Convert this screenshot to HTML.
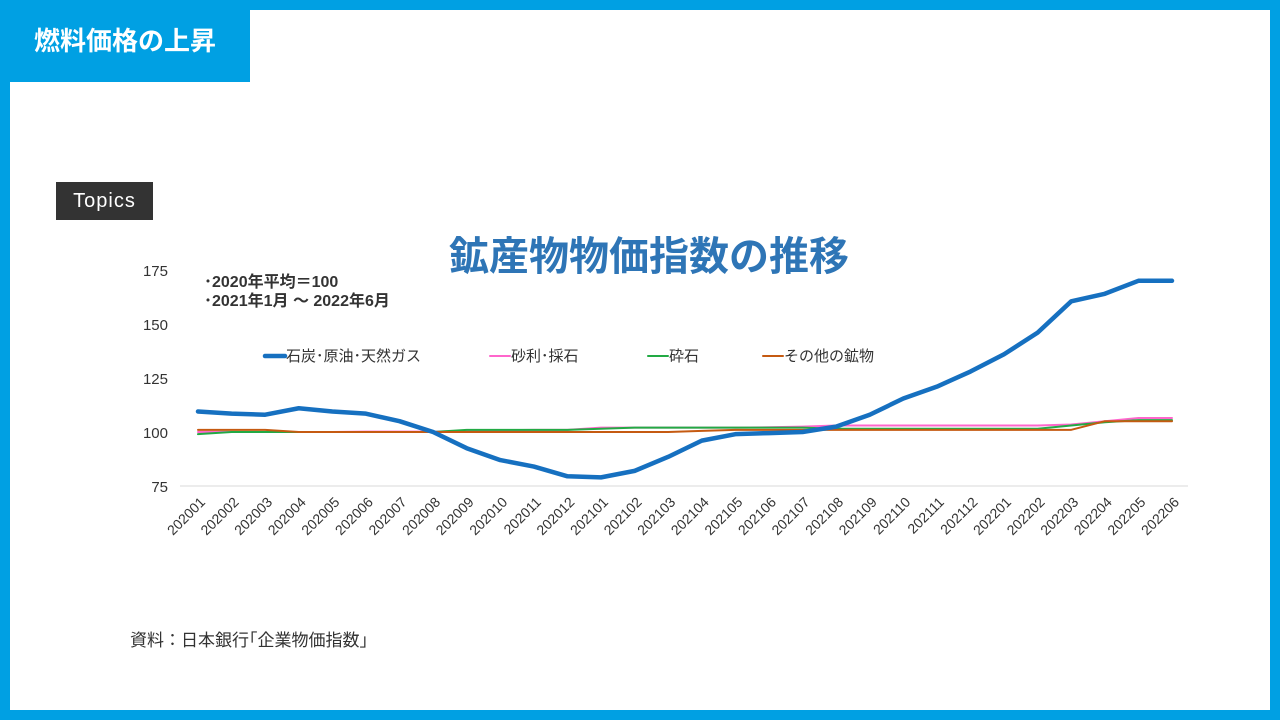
<!DOCTYPE html>
<html><head><meta charset="utf-8"><style>
body{margin:0;width:1280px;height:720px;overflow:hidden;font-family:"Liberation Sans","Noto Sans CJK JP",sans-serif}
#frame{position:absolute;left:0;top:0;width:1260px;height:700px;border:10px solid #00a0e3;background:#fff}
#ttl{position:absolute;left:0;top:0;width:250px;height:82px;background:#00a0e3;color:#fff;font-size:26px;font-weight:bold;line-height:82px;text-align:center}
#topics{position:absolute;left:56px;top:182px;width:97px;height:38px;background:#333;color:#fff;font-size:20px;line-height:38px;text-align:center;letter-spacing:1px}
#src{position:absolute;left:130px;top:626px;font-size:17px;color:#333}
</style></head><body>
<div id="frame"></div>
<div id="ttl">燃料価格の上昇</div>
<div id="topics">Topics</div>
<svg id="chart" width="1280" height="720" style="position:absolute;left:0;top:0">
<text x="649" y="270" text-anchor="middle" font-size="40" font-weight="bold" fill="#2e75b6">鉱産物物価指数の推移</text>
<text x="204" y="287" font-size="16" font-weight="bold" fill="#333">･2020年平均＝100</text>
<text x="204" y="306" font-size="16" font-weight="bold" fill="#333">･2021年1月 ～ 2022年6月</text>
<line x1="180" y1="486" x2="1188" y2="486" stroke="#e6e6e6" stroke-width="1.5"/>
<g id="g"></g>
</svg>
<div id="src">資料：日本銀行｢企業物価指数｣</div>
<script>
const categories=["202001","202002","202003","202004","202005","202006","202007","202008","202009","202010","202011","202012","202101","202102","202103","202104","202105","202106","202107","202108","202109","202110","202111","202112","202201","202202","202203","202204","202205","202206"];
const yTicks=[75,100,125,150,175];
const coal=[109.5,108.5,108,111,109.5,108.5,105,100,92.5,87,84,79.5,79,82,88.5,96,99,99.5,100,102.5,108,115.5,121,128,136,146,160.5,164,170,170];
const gravel=[100,100,100,100,100,100.2,100.2,100.2,100.5,100.8,101,101,102,102,102,102,102,102.2,102.5,103,103,103,103,103,103,103,103.5,105,106.5,106.5];
const crushed=[99,100,100,100,100,100,100,100,101,101,101,101,101.5,102,102,102,102,102,102,101.5,101.5,101.5,101.5,101.5,101.5,101.5,103,104.5,105.5,105.5];
const other=[101,101,101,100,100,100,100,100,100,100,100,100,100,100,100,100.5,101,101,101,101,101,101,101,101,101,101,101,105,105,105];
const seriesNames=["石炭･原油･天然ガス","砂利･採石","砕石","その他の鉱物"];
const NS="http://www.w3.org/2000/svg";
const g=document.getElementById('g');
const x=i=>198+i*(1172-198)/(categories.length-1);
const y=v=>486-(v-75)*2.16;
function mk(t,a,txt){const e=document.createElementNS(NS,t);for(const k in a)e.setAttribute(k,a[k]);if(txt!=null)e.textContent=txt;g.appendChild(e);return e;}
yTicks.forEach(v=>{const e=mk('text',{x:168,y:y(v)+6,'text-anchor':'end','font-size':15,fill:'#333'},v);

});
categories.forEach((c,i)=>{const e=mk('text',{x:x(i)+8,y:503,'text-anchor':'end','font-size':14,fill:'#333',transform:`rotate(-45 ${x(i)+8} 503)`},c);

});
const series=[[gravel,'#ff66cc',2],[crushed,'#22aa44',2],[other,'#c55a11',2],[coal,'#1670c0',4.5]];
const snames=['series-gravel','series-crushed-stone','series-other-minerals','series-coal-oil-gas'];
series.forEach((s,k)=>{const e=mk('polyline',{points:s[0].map((v,i)=>x(i)+','+y(v)).join(' '),fill:'none',stroke:s[1],'stroke-width':s[2],'stroke-linejoin':'round','stroke-linecap':'round'});

});
const leg=[[265,'#1670c0',4.5],[490,'#ff66cc',2],[648,'#22aa44',2],[763,'#c55a11',2]];
leg.forEach((l,k)=>{const ln=mk('line',{x1:l[0],y1:356,x2:l[0]+20,y2:356,stroke:l[1],'stroke-width':l[2],'stroke-linecap':'round'});


const t=mk('text',{x:l[0]+21,y:361,'font-size':15,fill:'#333'},seriesNames[k]);

});
</script>
</body></html>
